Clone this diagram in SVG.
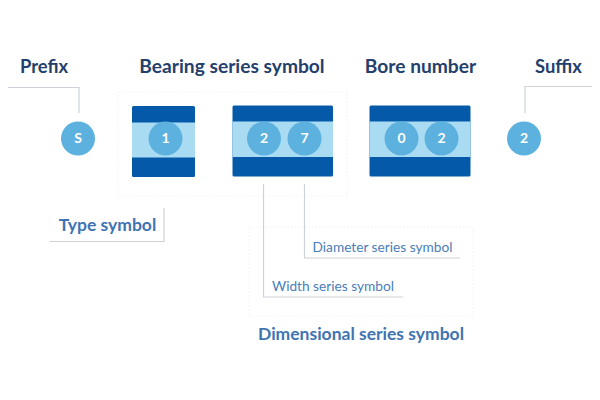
<svg xmlns="http://www.w3.org/2000/svg" width="600" height="400" viewBox="0 0 600 400">
<style>
text{font-family:Lato,"Liberation Sans",sans-serif}
.h{font-size:19.200px;font-weight:700;fill:#243f6b;text-anchor:middle}
.hs{font-size:18.400px}
.b{font-size:17.500px;font-weight:700;fill:#3f74b3;text-anchor:middle}
.s{font-size:13.700px;fill:#4a7dba;text-anchor:middle}
.n{font-size:14px;font-weight:700;fill:#fff;text-anchor:middle}
.c{fill:#5cb1de}
.d{fill:#045aa8}
.l{fill:#a9dcf3}
.ln{fill:none;stroke:#cdd2da;stroke-width:1.2}
.dot{fill:none;stroke:#eceef1;stroke-width:.8;stroke-dasharray:1.5 2}
</style>
<rect width="600" height="400" fill="#fff"/>
<g id="frames">
<rect class="dot" x="118" y="92" width="229" height="104"/>
<rect class="dot" x="249" y="227" width="224" height="89"/>
</g>
<g id="connectors">
<path class="ln" d="M8 87.500H79V113"/>
<path class="ln" d="M525 113V86.500H592"/>
<path class="ln" d="M50 241.500H164V208"/>
<path class="ln" d="M263.500 184V297H403"/>
<path class="ln" d="M304.500 184V258H460"/>
</g>
<g id="prefix">
<text class="h hs" x="44" y="73">Prefix</text>
<circle class="c" cx="78" cy="138.500" r="17"/>
<text class="n" x="78" y="143">S</text>
</g>
<g id="bearing-series-symbol">
<text class="h" x="232" y="73">Bearing series symbol</text>
</g>
<g id="type-box">
<rect class="d" x="132" y="106" width="63" height="71" rx="1.500"/>
<rect class="l" x="132" y="122.500" width="63" height="35"/>
<circle class="c" cx="165.500" cy="138.500" r="17"/>
<text class="n" x="165.500" y="143">1</text>
</g>
<g id="dimension-box">
<rect class="d" x="232.500" y="105.500" width="100.500" height="71" rx="1.500"/>
<rect class="l" x="232.500" y="121.500" width="100.500" height="35.500"/>
<circle class="c" cx="264" cy="138.500" r="17"/>
<text class="n" x="264" y="143">2</text>
<circle class="c" cx="304.500" cy="138.500" r="17"/>
<text class="n" x="304.500" y="143">7</text>
</g>
<g id="bore-number">
<text class="h" x="420.500" y="73">Bore number</text>
<rect class="d" x="369.500" y="105.500" width="101" height="71" rx="1.500"/>
<rect class="l" x="369.500" y="121.500" width="101" height="35.500"/>
<circle class="c" cx="401.500" cy="138.500" r="17"/>
<text class="n" x="401.500" y="143">0</text>
<circle class="c" cx="441.500" cy="138.500" r="17"/>
<text class="n" x="441.500" y="143">2</text>
</g>
<g id="suffix">
<text class="h hs" x="558.500" y="73">Suffix</text>
<circle class="c" cx="524" cy="138.500" r="17"/>
<text class="n" x="524" y="143">2</text>
</g>
<g id="type-symbol"><text class="b" x="107.500" y="231">Type symbol</text></g>
<g id="diameter-series-symbol"><text class="s" x="382.500" y="252">Diameter series symbol</text></g>
<g id="width-series-symbol"><text class="s" x="333" y="291">Width series symbol</text></g>
<g id="dimensional-series-symbol"><text class="b" x="361" y="340">Dimensional series symbol</text></g>
</svg>
